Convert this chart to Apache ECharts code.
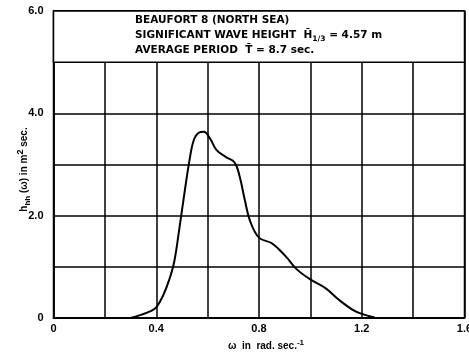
<!DOCTYPE html>
<html>
<head>
<meta charset="utf-8">
<script src="https://cdn.jsdelivr.net/npm/echarts@6/dist/echarts.min.js"></script>
<style>html,body{margin:0;padding:0;background:#fff;}#c{width:469px;height:362px;}</style>
</head>
<body>
<div id="c"></div>
<script>
// omega (rad/s) and spectral density h_hh (m^2 sec)
const omega = [0.30, 0.34, 0.38, 0.40, 0.425, 0.45, 0.47, 0.49, 0.51, 0.53, 0.545, 0.565, 0.585, 0.61, 0.635, 0.67, 0.705, 0.725, 0.745, 0.765, 0.80, 0.85, 0.905, 0.945, 0.995, 1.06, 1.11, 1.165, 1.20, 1.25];
const spectrum = [0.00, 0.06, 0.14, 0.21, 0.42, 0.74, 1.10, 1.75, 2.45, 3.10, 3.46, 3.62, 3.64, 3.50, 3.28, 3.15, 3.04, 2.76, 2.30, 1.90, 1.57, 1.46, 1.20, 0.96, 0.77, 0.58, 0.36, 0.16, 0.08, 0.01];
const xTicks = [0, 0.4, 0.8, 1.2, 1.6];
const xTickLabels = ['0', '0.4', '0.8', '1.2', '1.6'];
const yTicks = [0, 2, 4, 6];
const yTickLabels = ['0', '2.0', '4.0', '6.0'];
const boxRange = [5, 6];
const infoLines = ['BEAUFORT 8 (NORTH SEA)', 'SIGNIFICANT WAVE HEIGHT', '= 4.57 m', 'AVERAGE PERIOD', '= 8.7 sec.'];

const chart = echarts.init(document.getElementById('c'));
const F = 'Liberation Sans';
const FB = 'DejaVu Sans';
const lab = (ticks, labels) => v => {
  for (let i = 0; i < ticks.length; i++) if (Math.abs(v - ticks[i]) < 1e-6) return labels[i];
  return '';
};
chart.setOption({
  animation: false,
  backgroundColor: '#fff',
  title: {
    left: 135, top: 13, padding: 0,
    text: '{a|' + infoLines[0] + '}\n{a|' + infoLines[1] + '  H\u0304}{s|1/3}{a| ' + infoLines[2] + '}\n{a|' + infoLines[3] + '  T\u0304 ' + infoLines[4] + '}',
    textStyle: {
      rich: {
        a: {fontFamily: FB, fontSize: 10.5, fontWeight: 'bold', color: '#000', lineHeight: 15},
        s: {fontFamily: FB, fontSize: 7.5, fontWeight: 'bold', color: '#000', lineHeight: 15, verticalAlign: 'bottom', padding: [6, 0, 0, 0]}
      }
    }
  },
  grid: {left: 53.5, right: 4.5, top: 11, bottom: 44, outerBoundsMode: 'none', containLabel: false, show: true, borderColor: '#000', borderWidth: 1.5, backgroundColor: 'transparent'},
  xAxis: {
    type: 'value', min: 0, max: 1.6, interval: 0.2,
    axisLine: {show: true, lineStyle: {color: '#000', width: 1.5}},
    axisTick: {show: false},
    splitLine: {show: true, lineStyle: {color: '#000', width: 1.5}},
    axisLabel: {formatter: lab(xTicks, xTickLabels), fontFamily: F, fontWeight: 'bold', fontSize: 11, color: '#000', margin: 5},
    name: '{a|\u03c9  in  rad. sec.}{s|-1}',
    nameLocation: 'middle', nameGap: 19,
    nameTextStyle: {
      padding: [0, 0, 0, 14],
      rich: {
        a: {fontFamily: F, fontSize: 10, fontWeight: 'bold', color: '#000'},
        s: {fontFamily: F, fontSize: 8, fontWeight: 'bold', color: '#000', verticalAlign: 'top', padding: [0, 0, 7, 0]}
      }
    }
  },
  yAxis: {
    type: 'value', min: 0, max: 6, interval: 1,
    axisLine: {show: true, lineStyle: {color: '#000', width: 1.5}},
    axisTick: {show: false},
    splitLine: {show: true, lineStyle: {color: '#000', width: 1.5}},
    axisLabel: {formatter: lab(yTicks, yTickLabels), fontFamily: F, fontWeight: 'bold', fontSize: 11, color: '#000', margin: 10},
    name: '{a|h}{b|hh}{a| (\u03c9) in m}{c|2}{a| sec.}',
    nameLocation: 'middle', nameGap: 22, nameRotate: 90, nameMoveOverlap: false,
    nameTextStyle: {
      padding: [0, 10, 0, 0],
      rich: {
        a: {fontFamily: F, fontSize: 10, fontWeight: 'bold', color: '#000'},
        b: {fontFamily: F, fontSize: 8, fontWeight: 'bold', color: '#000', verticalAlign: 'bottom', padding: [6, 0, 0, 0]},
        c: {fontFamily: F, fontSize: 9, fontWeight: 'bold', color: '#000', verticalAlign: 'top', padding: [0, 0, 6, 0]}
      }
    }
  },
  series: [{
    type: 'line',
    data: omega.map((w, i) => [w, spectrum[i]]),
    smooth: 0.4,
    showSymbol: false,
    lineStyle: {color: '#000', width: 2},
    z: 3,
    markArea: {
      silent: true,
      itemStyle: {color: '#fff', borderColor: '#000', borderWidth: 1.5},
      data: [[{coord: [0, boxRange[0]]}, {coord: [1.6, boxRange[1]]}]]
    }
  }]
});
</script>
</body>
</html>
